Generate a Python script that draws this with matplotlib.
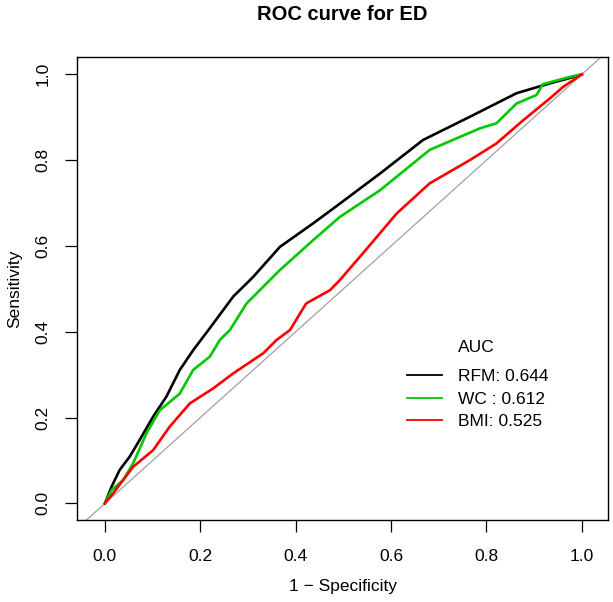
import matplotlib
matplotlib.use("Agg")
import matplotlib.pyplot as plt
from matplotlib.lines import Line2D

plt.rcParams['font.family'] = ['Liberation Sans', 'DejaVu Sans']

# ROC points (1 - specificity, sensitivity)
rfm_fpr = [0, 0.014, 0.031, 0.052, 0.073, 0.101, 0.129, 0.157, 0.185, 0.217, 0.269, 0.311,
           0.367, 0.437, 0.493, 0.577, 0.667, 0.765, 0.863, 0.933, 0.97, 1.0]
rfm_tpr = [0, 0.039, 0.078, 0.109, 0.148, 0.202, 0.249, 0.311, 0.357, 0.404, 0.482, 0.528,
           0.598, 0.653, 0.699, 0.769, 0.847, 0.901, 0.956, 0.979, 0.99, 1.0]

wc_fpr = [0, 0.014, 0.038, 0.059, 0.087, 0.115, 0.157, 0.185, 0.220, 0.241, 0.262, 0.297,
          0.367, 0.437, 0.493, 0.577, 0.681, 0.786, 0.821, 0.863, 0.905, 0.918, 0.975, 1.0]
wc_tpr = [0, 0.031, 0.054, 0.093, 0.163, 0.217, 0.256, 0.311, 0.342, 0.381, 0.404, 0.466,
          0.544, 0.614, 0.668, 0.730, 0.824, 0.874, 0.886, 0.932, 0.952, 0.977, 0.994, 1.0]

bmi_fpr = [0, 0.017, 0.059, 0.101, 0.136, 0.178, 0.227, 0.269, 0.332, 0.360, 0.388, 0.422,
           0.472, 0.493, 0.541, 0.612, 0.681, 0.765, 0.821, 0.877, 0.933, 0.961, 1.0]
bmi_tpr = [0, 0.023, 0.085, 0.124, 0.179, 0.233, 0.268, 0.303, 0.350, 0.381, 0.404, 0.466,
           0.497, 0.521, 0.583, 0.676, 0.746, 0.800, 0.839, 0.893, 0.944, 0.971, 1.0]

series_names = ['RFM', 'WC ', 'BMI']
auc_values = [0.644, 0.612, 0.525]
series_colors = ['black', '#00C800', '#FF0000']
ticks = [0.0, 0.2, 0.4, 0.6, 0.8, 1.0]
tick_labels = ['0.0', '0.2', '0.4', '0.6', '0.8', '1.0']

fig = plt.figure(figsize=(6.13, 6.02), dpi=100)
ax = fig.add_axes([0.126, 0.136, 0.866, 0.769])

# chance diagonal
ax.axline((0, 0), (1, 1), color='#A0A0A0', lw=0.9, zorder=1)

curves = [(rfm_fpr, rfm_tpr), (wc_fpr, wc_tpr), (bmi_fpr, bmi_tpr)]
for (fx, fy), col in zip(curves, series_colors):
    ax.plot(fx, fy, color=col, lw=1.9, zorder=2)

ax.set_xlim(-0.058, 1.055)
ax.set_ylim(-0.039, 1.04)
ax.set_xticks(ticks)
ax.set_xticklabels(tick_labels)
ax.set_yticks(ticks)
ax.set_yticklabels(tick_labels, rotation=90, va='center')
ax.tick_params(axis='both', direction='out', length=8.5, width=0.9, labelsize=12.5)
ax.tick_params(axis='x', pad=12)
ax.tick_params(axis='y', pad=11)
for sp in ax.spines.values():
    sp.set_linewidth(1.0)

ax.set_xlabel('1 \u2212 Specificity', fontsize=12.5, labelpad=11)
ax.set_ylabel('Sensitivity', fontsize=12.5, labelpad=9)
ax.set_title('ROC curve for ED', fontsize=14.5, fontweight='bold', pad=27)

handles = [Line2D([], [], color=c, lw=1.3) for c in series_colors]
labels = [f'{n}: {a:.3f}' for n, a in zip(series_names, auc_values)]
ax.legend(handles, labels, frameon=False, fontsize=12.5,
          loc='upper left', bbox_to_anchor=(0.621, 0.326), borderpad=0, borderaxespad=0,
          handlelength=2.0, handletextpad=0.95, labelspacing=0.42)
ax.text(0.751, 0.373, 'AUC', transform=ax.transAxes, fontsize=12.5, ha='center', va='center')

fig.savefig('out.png', dpi=100)
